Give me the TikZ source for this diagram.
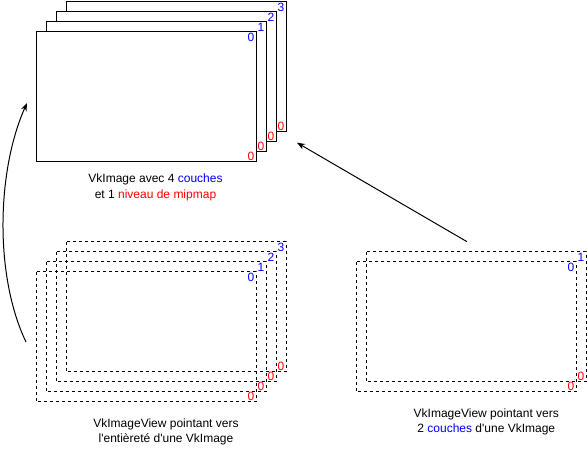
\documentclass[tikz,border=0pt]{standalone}
\usepackage{fontspec}
\setmainfont{Liberation Sans}[Ligatures=TeXOff]
\usetikzlibrary{arrows.meta}
\definecolor{lblue}{RGB}{0,0,255}
\definecolor{lred}{RGB}{255,0,0}
\begin{document}
\begin{tikzpicture}[x=0.75pt,y=-0.75pt,
  txt/.style={font=\fontsize{9}{11.6}\selectfont},
  layer/.style={draw=black,line width=0.75pt,fill=white},
  vlayer/.style={draw=black,line width=0.75pt,dash pattern=on 2.25pt off 2.25pt},
  numb/.style={txt,text=lblue,inner sep=0pt},
  numr/.style={txt,text=lred,inner sep=0pt},
  captxt/.style={txt,align=center,inner sep=0pt},
  arr/.style={draw=black,line width=0.75pt,-{Stealth[length=6pt,width=4.5pt]}}]
\useasboundingbox (0,0) rectangle (587,453);
% ---- top stack (VkImage)
\foreach \i/\n in {3/3,2/2,1/1,0/0}{
  \pgfmathsetmacro{\dx}{10*\i}
  \path[layer] (36+\dx,32-\dx) rectangle (256+\dx,162-\dx);
  \node[numb] (tb\i) at (251+\dx,37.3-\dx) {\n};
  \node[numr] (tr\i) at (251+\dx,156.7-\dx) {0};
}
\node[captxt] (capA) at (155.5,187.3) {VkImage avec 4 \textcolor{lblue}{couches}\\et 1 \textcolor{lred}{niveau de mipmap}};
% ---- bottom left stack (full view)
\foreach \i in {3,2,1,0}{
  \pgfmathsetmacro{\dx}{10*\i}
  \path[vlayer] (36+\dx,272-\dx) rectangle (256+\dx,402-\dx);
  \node[numb] (lb\i) at (251+\dx,277.7-\dx) {\i};
  \node[numr] (lr\i) at (251+\dx,396.7-\dx) {0};
}
\node[captxt] (capB) at (166,432) {VkImageView pointant vers\\l'entièreté d'une VkImage};
% ---- bottom right stack (2 layers)
\foreach \i in {1,0}{
  \pgfmathsetmacro{\dx}{10*\i}
  \path[vlayer] (356+\dx,262-\dx) rectangle (576+\dx,392-\dx);
  \node[numb] (rb\i) at (571+\dx,267.7-\dx) {\i};
  \node[numr] (rr\i) at (571+\dx,386.7-\dx) {0};
}
\node[captxt] (capC) at (486.3,422) {VkImageView pointant vers\\2 \textcolor{lblue}{couches} d'une VkImage};
% ---- arrows
\coordinate (la) at (26,342);
\coordinate (lb) at (27,103);
\coordinate (ra) at (467,241.7);
\coordinate (rb) at (297,142.7);
\draw[arr] (la) .. controls (-6,275) and (-3,170) .. (lb);
\draw[arr] (ra) -- (rb);
\end{tikzpicture}
\end{document}
